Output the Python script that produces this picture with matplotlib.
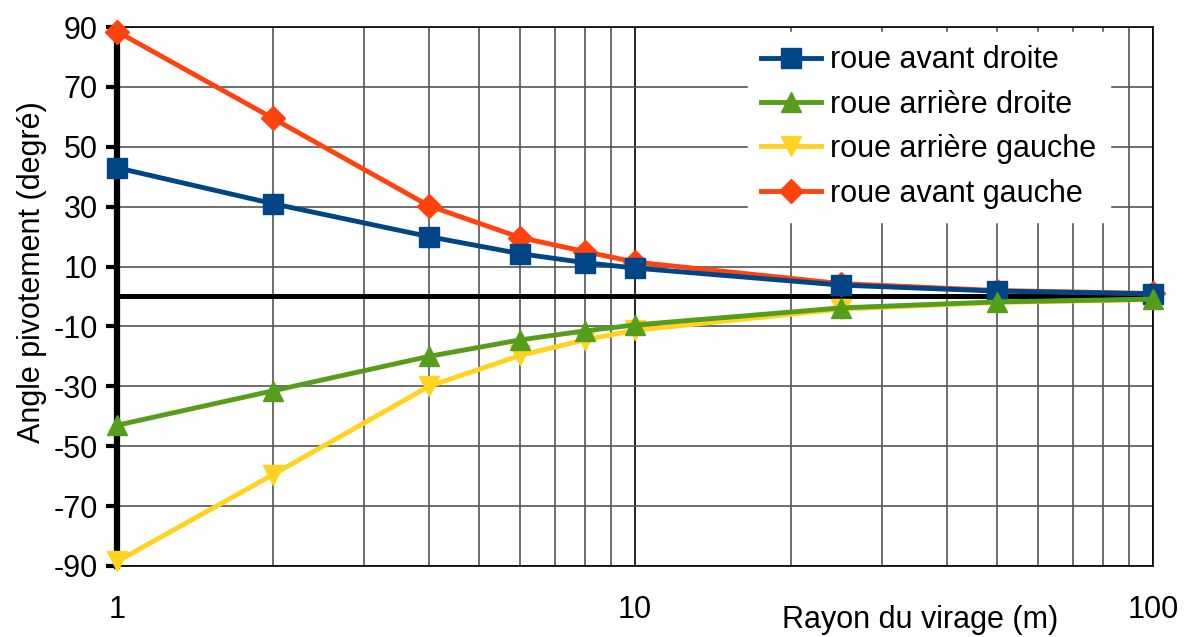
import matplotlib
matplotlib.use('Agg')
import matplotlib.pyplot as plt
from matplotlib.ticker import FixedLocator, NullFormatter, FixedFormatter

plt.rcParams['font.family'] = ['Liberation Sans', 'DejaVu Sans']
plt.rcParams['axes.unicode_minus'] = False

rayon = [1, 2, 4, 6, 8, 10, 25, 50, 100]

avant_droite = [43, 31, 20, 14.3, 11.3, 9.5, 3.8, 1.8, 0.9]
arriere_droite = [-43, -31.5, -20, -14.5, -11.5, -9.5, -3.8, -1.8, -0.9]
arriere_gauche = [-88.5, -59.5, -30, -19.7, -14.5, -11.3, -4.2, -2, -1]
avant_gauche = [88.5, 59.5, 30.3, 19.7, 15, 11.5, 4.3, 2, 1]

yticks = [-90, -70, -50, -30, -10, 10, 30, 50, 70, 90]

FS = 22

fig = plt.figure(figsize=(11.88, 6.37), dpi=100)
ax = fig.add_axes([0.0985, 0.1115, 0.872, 0.8461])

ax.set_xscale('log')
ax.set_xlim(1, 100)
ax.set_ylim(-90, 90)

# grid
ax.yaxis.set_major_locator(FixedLocator(yticks))
ax.grid(axis='y', color='#555555', lw=1.2, zorder=0)
ax.grid(axis='x', which='major', color='black', lw=1.2, zorder=0)
ax.grid(axis='x', which='minor', color='#555555', lw=1.2, zorder=0)
ax.set_axisbelow(True)

ax.axhline(0, color='black', lw=3.6, zorder=1)

kw = dict(lw=3.5, clip_on=False)
l1, = ax.plot(rayon, avant_droite, color='#004586', marker='s', ms=15,
              zorder=4, label='roue avant droite', **kw)
l2, = ax.plot(rayon, arriere_droite, color='#579d1c', marker='^', ms=15,
              zorder=4, label='roue arrière droite', **kw)
l3, = ax.plot(rayon, arriere_gauche, color='#ffd320', marker='v', ms=15,
              zorder=3, label='roue arrière gauche', **kw)
l4, = ax.plot(rayon, avant_gauche, color='#ff420e', marker='D', ms=12,
              zorder=3, label='roue avant gauche', **kw)

# spines
for s in ['top', 'right', 'bottom']:
    ax.spines[s].set_linewidth(1.2)
ax.spines['left'].set_linewidth(4.5)
ax.spines['left'].set_zorder(2)

ax.xaxis.set_major_locator(FixedLocator([1, 10, 100]))
ax.xaxis.set_major_formatter(FixedFormatter(['1', '10', '100']))
ax.xaxis.set_minor_formatter(NullFormatter())
ax.tick_params(axis='x', which='both', length=0, pad=21, labelsize=FS)
ax.tick_params(axis='y', length=8, width=3, pad=6, labelsize=FS)

ax.set_ylabel('Angle pivotement (degré)', fontsize=FS)
ax.yaxis.set_label_coords(-0.068, 0.545)
ax.text(0.775, -0.10, 'Rayon du virage (m)', transform=ax.transAxes,
        fontsize=FS, ha='center', va='center')

leg = ax.legend(handles=[l1, l2, l3, l4], loc='upper left',
                bbox_to_anchor=(748 / 1188, 1 - 32 / 637),
                bbox_transform=fig.transFigure, fontsize=FS,
                frameon=True, fancybox=False, framealpha=1,
                edgecolor='white', facecolor='white',
                handlelength=1.96, handletextpad=0.3, labelspacing=0.47,
                borderpad=0.44, borderaxespad=0)
leg.set_zorder(6)

fig.savefig('out.png', dpi=100)
